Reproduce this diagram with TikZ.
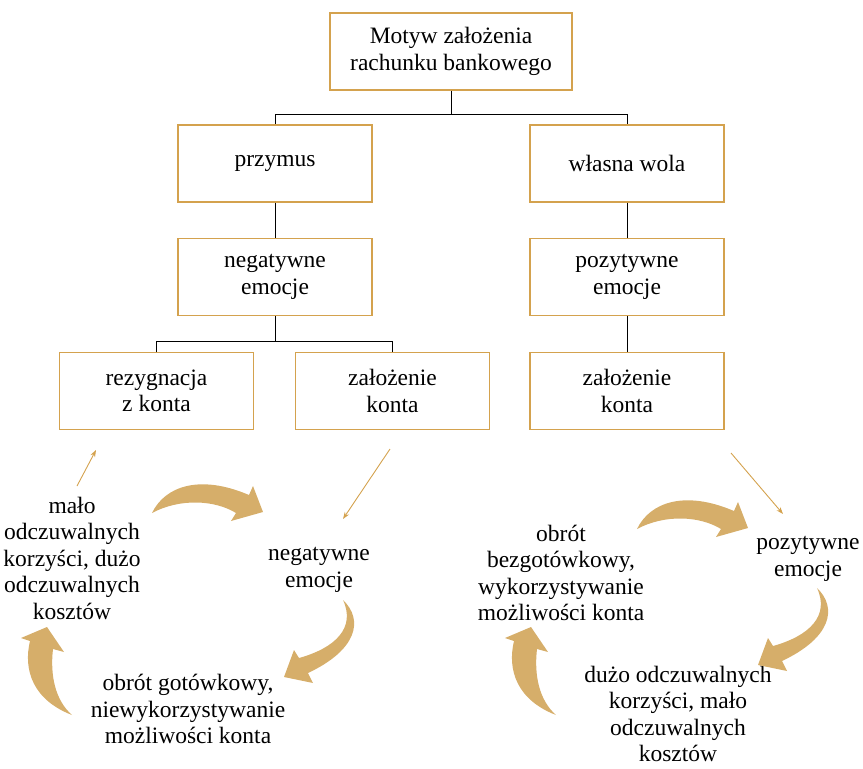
\documentclass[tikz,border=0pt]{standalone}
\usepackage{fontspec}
\setmainfont{Liberation Serif}
\usetikzlibrary{arrows.meta}
\definecolor{boxgold}{RGB}{212,162,78}
\definecolor{arrgold}{RGB}{214,174,106}
\tikzset{
  fatA/.pic={\fill[arrgold] (152,513) .. controls (165,486) and (200,474) .. (249,495) -- (253,486) -- (263,512) -- (231,521) -- (236,513) .. controls (215,500) and (180,498) .. (152,513) -- cycle;},
  fatB/.pic={\fill[arrgold] (343,600) .. controls (364,620) and (357,650) .. (308,673) -- (313,683) -- (284,677) -- (294,650) -- (299,658) .. controls (335,648) and (356,628) .. (343,600) -- cycle;},
  fatC/.pic={\fill[arrgold] (72,715) .. controls (33,700) and (23,670) .. (30,641) -- (21,638) -- (47,627) -- (64,652) -- (53,649) .. controls (50,675) and (55,700) .. (72,715) -- cycle;}
}
\begin{document}
\begin{tikzpicture}[x=1pt,y=-1pt,
  every node/.style={font=\fontsize{23.5}{26.5}\selectfont, align=center, inner sep=0pt},
  box/.style={draw=boxgold, line width=1.1pt, fill=white, minimum width=194pt, minimum height=77pt},
  tree/.style={draw=black, line width=1pt},
  thinarr/.style={draw=boxgold, line width=0.9pt, -{Stealth[length=7pt,width=5pt]}}]
\useasboundingbox (0,0) rectangle (863,769);

% boxes
\node[box, minimum width=242pt] (top) at (451,51.5) {Motyw założenia\\rachunku bankowego};
\node[box] (przymus) at (275,163.5) {przymus};
\node[box] (wola) at (627,163.5) {własna wola};
\node[box] (neg) at (275,277) {negatywne\\emocje};
\node[box] (poz) at (627,277) {pozytywne\\emocje};
\node[box] (rez) at (156.5,391) {rezygnacja\\z konta};
\node[box] (zalL) at (392.5,391) {założenie\\konta};
\node[box] (zalR) at (627,391) {założenie\\konta};

% tree connectors
\coordinate (j1) at (451,114);
\coordinate (j2) at (275,341);
\draw[tree] (top.south) -- (j1) -| (przymus.north);
\draw[tree] (j1) -| (wola.north);
\draw[tree] (przymus.south) -- (neg.north);
\draw[tree] (wola.south) -- (poz.north);
\draw[tree] (neg.south) -- (j2) -| (rez.north);
\draw[tree] (j2) -| (zalL.north);
\draw[tree] (zalR.north) -- (poz.south);

% cycle texts
\node (malo) at (72,558) {mało\\odczuwalnych\\korzyści, dużo\\odczuwalnych\\kosztów};
\node (negL) at (319,570) {negatywne\\emocje};
\node (obrL) at (188,709) {obrót gotówkowy,\\niewykorzystywanie\\możliwości konta};
\node (obrR) at (561,573) {obrót\\bezgotówkowy,\\wykorzystywanie\\możliwości konta};
\node (pozR) at (808,559) {pozytywne\\emocje};
\node (duzo) at (678,714) {dużo odczuwalnych\\korzyści, mało\\odczuwalnych\\kosztów};

% thin arrows
\coordinate (t1s) at (77,486); \coordinate (t1e) at (96,450);
\coordinate (t2s) at (390,449); \coordinate (t2e) at (343,519);
\coordinate (t3s) at (731,453); \coordinate (t3e) at (783,514);
\draw[thinarr] (t1s) -- (t1e);
\draw[thinarr] (t2s) -- (t2e);
\draw[thinarr] (t3s) -- (t3e);

% fat curved arrows
\pic (fa1) at (0,0) {fatA};
\pic (fb1) at (0,0) {fatB};
\pic (fc1) at (0,0) {fatC};
\pic (fa2) at (485,16) {fatA};
\pic (fb2) at (474,-12) {fatB};
\pic (fc2) at (484,0) {fatC};
\end{tikzpicture}
\end{document}
